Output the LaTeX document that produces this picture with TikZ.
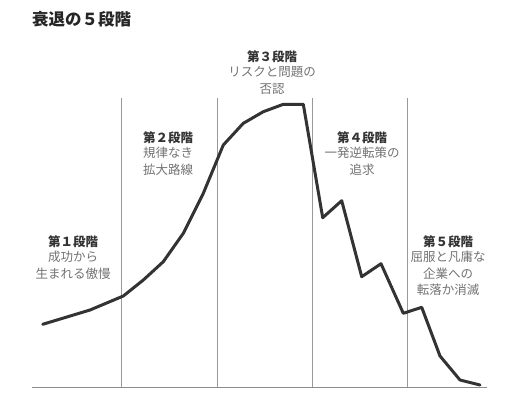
\documentclass[tikz,border=0pt]{standalone}
\usepackage{fontspec}
\setmainfont{Noto Sans CJK JP}
\usetikzlibrary{positioning}

\tikzset{
	stagehead/.style={font=\fontsize{12.5}{16}\selectfont\bfseries,text=black!80,inner sep=0pt},
	stagetext/.style={font=\fontsize{12.5}{16.5}\selectfont,text=black!55,align=center,inner sep=0pt},
	divider/.style={black!40,line width=0.6pt},
	decline/.style={black!80,line width=3pt,line join=round,line cap=round}
}

\begin{document}
\begin{tikzpicture}[x=1pt,y=-1pt]
	\useasboundingbox[fill=white] (0,0) rectangle (532,397);
	
	%TITLE
	\node[font=\fontsize{16.5}{19}\selectfont\bfseries,text=black!85,anchor=west,inner sep=0pt] (title) at (32,19) {衰退の５段階};
	
	%AXIS
	\draw[black!45,line width=0.8pt] (32,387)--(487,387);
	
	%lines
	\foreach \x in {121,217,312,407}
	\draw[divider] (\x,98)--(\x,387);
	
	%CURVE
	\draw[decline] (42.7,324.3)--(90,310)--(123.3,296)--(143.3,280)--(163.3,261.7)--(183.3,233.3)--(203.3,193.3)--(223.3,145)--(243.3,123.3)--(263.3,111.7)--(283.3,104.3)--(303.3,104.3)
		--(322.7,217.7)--(341.7,200.7)--(361.7,276.7)--(381,263.7)--(403.3,313.3)--(421.7,307.3)--(440,356)--(460,380)--(480,385);
	
	%LABELS
	\foreach \n/\d/\x/\y/\t in {1/１/73/242/{成功から\\生まれる傲慢},2/２/168/138/{規律なき\\拡大路線},3/３/272/57/{リスクと問題の\\否認},4/４/362/138/{一発逆転策の\\追求},5/５/448/242/{屈服と凡庸な\\企業への\\転落か消滅}}{
	\node[stagehead] (head\n) at (\x,\y) {第\d 段階};
	\node[stagetext,below=3pt of head\n] (text\n) {\t};
	}
	
\end{tikzpicture}
\end{document}
